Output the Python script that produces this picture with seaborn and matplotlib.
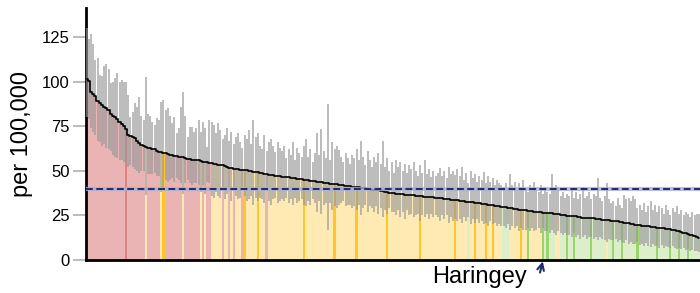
import pandas as pd
import seaborn as sns
import matplotlib.pyplot as plt

# Rate per 100,000 for each area, sorted high to low
values = [
    101.5, 100.5, 94, 93, 92, 89, 88, 87, 86, 85.5,
    84, 82, 81, 80, 79, 77.5, 76.5, 75, 73.5, 70,
    69.5, 69, 68.5, 67, 65.5, 64.5, 64, 63.5, 63, 62.8,
    62.5, 62, 61, 60.5, 60.3, 60, 59.8, 59.5, 59, 58.7,
    58.5, 58.2, 58, 57.8, 57.5, 57, 56.8, 56.5, 56.3, 56.1,
    56, 55.8, 55.5, 55.2, 55, 54.8, 54.5, 54.2, 54, 53.8,
    53.5, 53.2, 53, 52.6, 52.2, 51.8, 51.5, 51.3, 51.1, 50.9,
    50.7, 50.5, 50.4, 50.2, 50, 49.8, 49.6, 49.5, 49.3, 49,
    48.7, 48.4, 48.1, 47.9, 47.6, 47.5, 47.3, 47.1, 46.9, 46.7,
    46.6, 46.4, 46.3, 46.1, 46, 45.8, 45.6, 45.4, 45.2, 45,
    44.9, 44.8, 44.5, 44.3, 44.1, 43.9, 43.7, 43.5, 43.3, 43,
    42.9, 42.8, 42.6, 42.5, 42.4, 42.2, 42.1, 41.9, 41.7, 41.6,
    41.4, 41.2, 41, 40.8, 40.7, 40.5, 40.3, 40.1, 39.9, 39.7,
    39.5, 39.3, 39.2, 39, 38.8, 38.5, 38.2, 38, 37.7, 37.5,
    37.3, 37.1, 37, 36.9, 36.8, 36.7, 36.6, 36.4, 36.3, 36.2,
    36.1, 36, 35.8, 35.7, 35.6, 35.5, 35.5, 35.3, 35.2, 35,
    34.8, 34.6, 34.5, 34.3, 34.2, 34, 33.9, 33.8, 33.6, 33.5,
    33.3, 33.1, 33, 32.8, 32.7, 32.5, 32.3, 32.1, 32, 31.8,
    31.6, 31.4, 31.3, 31.1, 30.9, 30.7, 30.5, 30.3, 30.1, 29.9,
    29.7, 29.5, 29.3, 29.1, 28.9, 28.7, 28.5, 28.3, 28.2, 28,
    27.9, 27.7, 27.5, 27.3, 27.1, 27, 26.9, 26.7, 26.6, 26.5,
    26.4, 26.2, 26.1, 26, 25.8, 25.7, 25.5, 25.3, 25.1, 24.9,
    24.8, 24.7, 24.5, 24.4, 24.2, 24, 23.8, 23.7, 23.6, 23.5,
    23.4, 23.3, 23.1, 23, 22.9, 22.7, 22.5, 22.4, 22.3, 22.1,
    22, 21.8, 21.6, 21.4, 21.1, 21, 20.8, 20.6, 20.4, 20.1,
    19.9, 19.6, 19.5, 19.3, 19.1, 19, 18.8, 18.6, 18.4, 18.3,
    18.1, 18, 17.8, 17.7, 17.5, 17.4, 17.2, 16.9, 16.6, 16.3,
    16, 15.8, 15.4, 15, 14.6, 14.2, 13.8, 13.3, 12.8, 12.2,
]

upper_ci = [
    130, 124, 127, 121, 112, 113, 104, 103, 109, 110,
    107, 99, 100, 102, 105, 100, 101, 100, 100, 92.5,
    80, 83, 88, 86, 91.5, 81, 78.5, 102.7, 82, 81,
    77.5, 75.7, 79.4, 78.5, 88.7, 89.7, 84, 85, 81, 76.6,
    80, 71, 73.8, 86, 94.3, 81, 69, 74.7, 74.7, 72,
    73.8, 78.5, 72, 77.5, 73.8, 63.5, 78.5, 77.5, 75.7, 71,
    76.6, 73, 68, 70, 74, 67, 72, 65, 69, 71,
    66, 63, 70, 68, 73, 65, 78.5, 69, 71, 64,
    62, 70, 61, 66, 68, 64, 60.5, 66, 63, 61,
    64, 57, 62, 59, 66, 56, 63, 60, 58, 64,
    67.7, 58, 62, 55, 60, 71, 59, 73.4, 61, 57,
    87.4, 56, 66.3, 62, 64, 61.6, 58, 55, 60, 57,
    54, 59, 57, 62, 56, 66.7, 58, 53, 61, 56,
    52, 58, 55, 60, 54, 66.7, 52, 57, 50, 55,
    49, 56, 52, 55, 50, 54, 48.7, 53, 51, 55,
    50, 47, 53, 49, 56, 48, 51, 46.5, 50, 47,
    49, 51.6, 47, 50, 46, 52, 48, 50, 47.6, 51,
    47, 52.3, 45, 49, 43, 50, 46, 48, 44, 47,
    45, 49.5, 43, 47, 44, 46, 42, 45, 43, 42,
    41, 43, 40, 48, 42, 44, 39, 43, 41, 45,
    40, 38, 42, 39, 44, 41, 38, 42, 37, 39,
    38, 37, 48, 39, 42, 41, 36, 38, 35, 37,
    36, 39, 35, 38, 34, 37, 41, 35, 36, 38,
    34, 37, 36, 46, 35, 33, 36, 43, 34, 32,
    33, 30, 35, 31, 29, 36.4, 34, 35, 33, 36,
    34, 29, 31, 28, 32, 27, 30, 33, 28, 31,
    27, 30, 29, 26, 31, 28, 25, 29, 27, 30,
    26, 28, 25, 27, 26, 24, 27, 25, 26, 26,
]

lower_ci = [
    80, 79, 74, 72, 70, 67, 66, 64, 65, 63,
    62, 61, 59, 58, 57, 56, 56, 55, 54, 52,
    53, 52, 51, 50, 49, 50, 50, 36.4, 48, 48,
    48, 49, 47, 47, 38, 39, 45, 44, 45, 46,
    44, 46, 45, 43, 37, 43, 45, 43, 42, 43,
    43, 42, 38, 42, 37, 44, 43, 36, 35, 38,
    36, 35, 41, 34, 37, 41, 33, 41, 36, 34,
    35, 41, 36, 33, 34, 36, 31, 35, 33, 35,
    34, 32, 40.5, 33, 31, 34, 35, 32, 33, 34,
    33, 35, 32, 34, 31, 35, 32, 33, 34, 31,
    30, 33, 31, 34, 32, 27, 33, 26, 31, 32,
    16.8, 32, 28, 30, 29, 31, 32, 33, 30, 31,
    31, 29, 30, 28, 31, 25, 29, 31, 27, 30,
    29, 27, 30, 26, 29, 24, 28, 26, 29, 27,
    27, 25, 28, 24, 27, 23, 28, 25, 26, 24,
    25, 26, 22, 25, 24, 26, 23, 26, 24, 25,
    24, 22, 25, 23, 25, 21, 24, 22, 23, 22,
    23, 21, 24, 22, 24, 20, 23, 21, 23, 21,
    22, 20, 21, 19, 22, 20, 21, 19, 20, 19,
    19, 18, 20, 17, 19, 18, 19, 16, 18, 17,
    17, 18, 16, 18, 16, 17, 18, 15, 18, 16,
    16, 15, 17, 15, 14, 16, 15, 14, 15, 14,
    14, 13, 15, 13, 14, 12, 13, 14, 12, 13,
    13, 12, 13, 11, 13, 12, 11, 10, 12, 11,
    11, 12, 10, 11, 10, 9.5, 11, 9, 10, 9,
    9, 10, 8.5, 9, 8, 9.5, 8, 7.5, 9, 8,
    8, 7, 8.5, 7, 8, 7.5, 6.5, 8, 7, 6,
    6.5, 6, 7, 5.5, 6, 5, 5.5, 5, 4.8, 4.5,
]

# R = higher, Y = similar, G = lower; lower case = highlighted areas
significance = list(
    "RRRRRRRRRR" "RRRRRRRRrR" "RRRRRRRYRR" "RRRRYyRRRR" "RRRRYRRRRR"
    "RRYRYRRYYY" "YYRYYRYRYY" "YRyYYYYYyY" "YYRYYYYYYY" "YYYYYYYYYy"
    "YYYYYYYYYY" "YYYyYYYYYY" "YYYyYYYYYY" "YYYYYYYyYY" "YYYYYYYYYY"
    "YYyYYYYYYY" "YYYYYYYYyY" "YYYYGYYyYY" "YYyYYyYYYY" "GGGYYYYYyY"
    "YgYYYYYYgG" "gGGGYYGGGg" "GGgGGGGGGG" "gGGGGGGYGG" "gGGGgGGGGG"
    "GgGGGGGGGG" "gGGGGGgGGG" "gGGGgGGGGG"
)

england_avg = 40
highlight_name = 'Haringey'
highlight_idx = 208

colors = {'R': '#ebb4b4', 'r': '#dd8282', 'Y': '#ffeab4', 'y': '#ffc62a',
          'G': '#ddeecb', 'g': '#99d46c'}
navy = '#1f2a6e'

df = pd.DataFrame({'area': range(len(values)), 'value': values,
                   'lower': lower_ci, 'upper': upper_ci, 'sig': significance})

sns.set_theme(style='white')
plt.rcParams['font.family'] = ['Liberation Sans', 'DejaVu Sans']
plt.rcParams['text.color'] = 'black'
plt.rcParams['axes.labelcolor'] = 'black'
plt.rcParams['ytick.labelcolor'] = 'black'

fig = plt.figure(figsize=(7, 2.93), dpi=100)
ax = fig.add_axes([85.5 / 700, 1 - 260 / 293, 1 - 85.5 / 700, 252 / 293])

sns.barplot(data=df, x='area', y='value', hue='sig', palette=colors, dodge=False,
            saturation=1, width=1.0, linewidth=0, errorbar=None, legend=False, ax=ax)
ax.vlines(df['area'], df['lower'], df['upper'], color='#999999', lw=1.15, alpha=0.8, zorder=3)
sns.lineplot(data=df, x='area', y='value', drawstyle='steps-mid', color='black', lw=1.2,
             ax=ax, zorder=4)

# England average
ax.axhline(england_avg, color='#a9afd0', lw=3, alpha=0.8, zorder=5)
ax.axhline(england_avg, color=navy, lw=1.4, ls=(0, (3.5, 1.8)), zorder=6)

ax.set_xlim(-0.5, len(values) - 0.5)
ax.set_ylim(0, 141.3)
ax.set_xticks([])
ax.set_yticks([0, 25, 50, 75, 100, 125])
ax.tick_params(axis='y', left=True, length=9.5, width=1.1, color='#aaaaaa',
               labelsize=12, labelcolor='black', pad=2)
ax.set_xlabel('')
ax.set_ylabel('per 100,000', fontsize=17, color='black')
ax.yaxis.set_label_coords(-0.086, 0.5)

ax.spines[['top', 'right']].set_visible(False)
for side in ['left', 'bottom']:
    ax.spines[side].set_color('black')
    ax.spines[side].set_linewidth(2)

ax.annotate(highlight_name, xy=(highlight_idx, 0), xytext=(-46, -16.6),
            textcoords='offset points', ha='center', va='baseline', fontsize=17,
            color='black', annotation_clip=False)
ax.annotate('', xy=(highlight_idx, 0), xytext=(-2.2, -9), textcoords='offset points',
            arrowprops=dict(arrowstyle='->', color=navy, lw=1.5, shrinkA=0, shrinkB=1),
            annotation_clip=False)

fig.savefig('out.png', dpi=100)
